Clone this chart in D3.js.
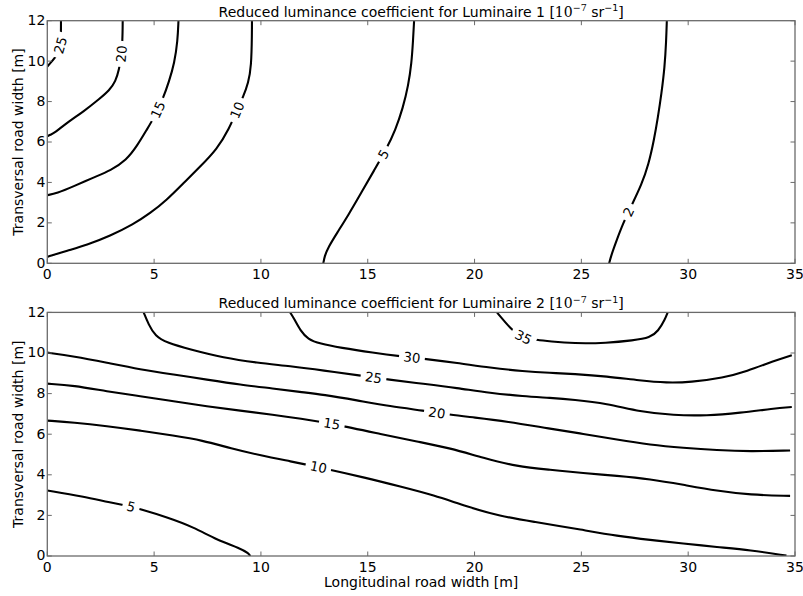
<!DOCTYPE html>
<html><head><meta charset="utf-8">
<script src="https://cdn.jsdelivr.net/npm/d3@7/dist/d3.min.js"></script>
<style>
body{margin:0;background:#fff}
svg{display:block}
text{font-family:"DejaVu Sans",sans-serif;fill:#000}
</style>
</head><body>
<svg id="chart" width="803" height="596"></svg>
<script>
// ---------------- data ----------------
const xTicks = [0, 5, 10, 15, 20, 25, 30, 35];
const yTicks = [0, 2, 4, 6, 8, 10, 12];
const xLabel = "Longitudinal road width [m]";
const yLabel = "Transversal road width [m]";
const titleMain1 = "Reduced luminance coefficient for Luminaire 1 ";
const titleMain2 = "Reduced luminance coefficient for Luminaire 2 ";

// Luminaire 1 contour lines [x, y]
const lum1Level25 = [[0.64,12],[0.64,11.4],[0.62,10.8],[0.52,10.42],[0.34,10.15],[0.14,9.9],[0,9.73]];
const lum1Level20 = [[3.53,12],[3.52,11.0],[3.46,10.2],[3.36,9.6],[3.20,9.0],[2.90,8.55],[2.47,8.16],[1.69,7.50],[0.91,6.95],[0.36,6.46],[0.13,6.35],[0,6.28]];
const lum1Level15 = [[6.14,12],[6.10,11.0],[5.95,9.9],[5.70,9.0],[5.40,8.1],[5.05,7.3],[4.65,6.6],[4.20,5.8],[3.70,5.1],[2.98,4.6],[2.15,4.24],[1.22,3.80],[0.44,3.46],[0,3.37]];
const lum1Level10 = [[9.58,12],[9.58,11.4],[9.55,9.72],[9.41,8.93],[9.17,8.23],[8.89,7.59],[8.52,6.68],[7.95,5.65],[7.15,4.78],[6.37,3.96],[5.59,3.13],[4.81,2.47],[4.03,1.93],[2.94,1.35],[1.84,0.9],[0.91,0.62],[0.13,0.36],[0,0.32]];
const lum1Level5 = [[17.17,12],[17.12,11.0],[17.05,9.9],[16.90,8.8],[16.65,7.7],[16.3,6.6],[15.85,5.6],[15.3,4.6],[14.7,3.5],[14.1,2.4],[13.55,1.48],[13.15,0.79],[12.98,0.35],[12.92,0]];
const lum1Level2 = [[29.0,12],[28.97,11.0],[28.90,9.7],[28.75,8.4],[28.58,7.2],[28.40,6.1],[28.15,4.9],[27.8,3.85],[27.42,3.02],[26.95,1.98],[26.62,1.05],[26.40,0.4],[26.30,0]];
const lum1Levels = [25, 20, 15, 10, 5, 2];
const lum1LabelX = [0.63, 3.44, 5.21, 8.88, 15.74, 27.2];
const lum1LabelY = [10.78, 10.36, 7.58, 7.58, 5.40, 2.54];

// Luminaire 2 contour lines [x, y]
const lum2Level35 = [[21.05,12],[21.12,11.9],[21.45,11.5],[21.74,11.16],[22.0,10.93],[22.29,10.78],[22.91,10.64],[23.54,10.57],[24.63,10.47],[26.19,10.49],[27.43,10.62],[28.22,10.75],[28.60,11.08],[28.91,11.65],[29.04,12]];
const lum2Level30 = [[11.37,12],[11.55,11.7],[11.85,11.1],[12.2,10.68],[12.75,10.46],[13.71,10.26],[15.27,10.01],[16.52,9.84],[17.69,9.71],[19.17,9.52],[20.73,9.27],[22.29,9.10],[23.54,9.02],[24.63,8.97],[26.19,8.85],[27.75,8.64],[29.0,8.53],[30.09,8.56],[31.65,8.78],[32.74,9.10],[33.99,9.60],[34.85,9.89]];
const lum2Level25 = [[4.51,12],[4.74,11.41],[5.05,10.83],[5.60,10.50],[6.69,10.17],[8.25,9.76],[9.81,9.52],[11.37,9.35],[12.93,9.14],[14.65,8.89],[15.97,8.69],[17.61,8.48],[19.17,8.28],[20.73,8.03],[22.29,7.87],[23.54,7.79],[24.63,7.70],[26.19,7.51],[27.75,7.10],[29.31,6.93],[30.87,6.91],[32.43,7.05],[33.99,7.26],[34.85,7.34]];
const lum2Level20 = [[0,10.02],[1.23,9.84],[2.79,9.52],[4.35,9.19],[5.91,8.94],[7.47,8.69],[9.03,8.44],[10.59,8.25],[11.84,8.08],[12.93,7.95],[14.49,7.67],[16.05,7.37],[17.61,7.16],[18.86,6.96],[19.95,6.83],[21.51,6.63],[23.54,6.27],[25.08,6.02],[26.67,5.73],[28.22,5.48],[29.76,5.33],[31.35,5.21],[32.9,5.15],[34.77,5.20]];
const lum2Level15 = [[0,8.49],[1.23,8.40],[2.79,8.11],[4.35,7.87],[5.91,7.62],[7.47,7.37],[9.03,7.16],[10.59,6.96],[11.84,6.77],[13.32,6.52],[15.74,5.98],[17.30,5.64],[18.86,5.32],[20.42,4.82],[21.98,4.41],[23.54,4.25],[25.08,4.08],[26.67,3.95],[28.22,3.79],[29.76,3.51],[31.35,3.21],[32.9,3.01],[34.77,2.96]];
const lum2Level10 = [[0,6.67],[1.23,6.58],[2.79,6.40],[4.35,6.18],[5.91,5.93],[7.25,5.70],[8.6,5.30],[10.0,4.95],[11.4,4.66],[12.69,4.38],[14.96,3.84],[16.52,3.42],[18.08,3.0],[19.64,2.43],[21.2,1.96],[22.7,1.70],[25.08,1.28],[26.67,0.99],[28.22,0.79],[29.76,0.62],[31.35,0.44],[32.9,0.29],[34.6,0.02]];
const lum2Level5 = [[0,3.23],[1.68,2.93],[2.95,2.63],[3.65,2.50],[4.35,2.31],[5.6,1.91],[6.85,1.42],[7.94,0.79],[9.03,0.38],[9.42,0.13],[9.5,0]];
const lum2Levels = [35, 30, 25, 20, 15, 10, 5];
const lum2LabelX = [22.29, 17.07, 15.27, 18.24, 13.32, 12.69, 3.93];
const lum2LabelY = [10.78, 9.79, 8.80, 7.08, 6.52, 4.38, 2.47];

// ---------------- drawing ----------------
const svg = d3.select("#chart");
svg.append("rect").attr("width", 803).attr("height", 596).attr("fill", "#fff");
const plotLeft = 47.3, plotRight = 795;

function drawPanel(id, top, bottom, titleText, lines, levels, labX, labY, showXLabel) {
  const x = d3.scaleLinear().domain([0, 35]).range([plotLeft, plotRight]);
  const y = d3.scaleLinear().domain([0, 12]).range([bottom, top]);
  const g = svg.append("g");

  g.append("clipPath").attr("id", "clip" + id)
    .append("rect").attr("x", plotLeft).attr("y", top)
    .attr("width", plotRight - plotLeft).attr("height", bottom - top);

  const lineGen = d3.line().x(d => x(d[0])).y(d => y(d[1]))
    .curve(d3.curveBasis);

  const lg = g.append("g").attr("clip-path", `url(#clip${id})`);
  lines.forEach(l => {
    lg.append("path").attr("d", lineGen(l.pts))
      .attr("fill", "none").attr("stroke", "#000")
      .attr("stroke-width", 2.1).attr("stroke-linejoin", "round").attr("stroke-linecap", "butt");
  });

  // inline contour labels
  levels.forEach((lev, i) => {
    const line = lines.find(l => l.level === lev);
    const px = x(labX[i]), py = y(labY[i]);
    let best = null;
    for (let k = 0; k < line.pts.length - 1; k++) {
      const ax = x(line.pts[k][0]), ay = y(line.pts[k][1]);
      const bx = x(line.pts[k + 1][0]), by = y(line.pts[k + 1][1]);
      const dx = bx - ax, dy = by - ay;
      const len2 = dx * dx + dy * dy;
      let t = len2 ? ((px - ax) * dx + (py - ay) * dy) / len2 : 0;
      t = Math.max(0, Math.min(1, t));
      const qx = ax + t * dx, qy = ay + t * dy;
      const dist = Math.hypot(px - qx, py - qy);
      if (!best || dist < best.dist) best = {dist, qx, qy, dx, dy};
    }
    let ang = Math.atan2(best.dy, best.dx) * 180 / Math.PI;
    if (ang > 90) ang -= 180;
    if (ang < -90) ang += 180;
    const lg2 = g.append("g").attr("transform", `translate(${best.qx},${best.qy}) rotate(${ang})`);
    const rect = lg2.append("rect").attr("fill", "#fff");
    const t = lg2.append("text").attr("text-anchor", "middle").attr("dy", "0.36em")
      .attr("font-size", 13.3).text(lev);
    const w = t.node().getComputedTextLength() + 9;
    rect.attr("x", -w / 2).attr("y", -5.5).attr("width", w).attr("height", 11);
  });

  // frame
  const frameColor = "#6a6a6a";
  g.append("rect").attr("x", plotLeft).attr("y", top)
    .attr("width", plotRight - plotLeft).attr("height", bottom - top)
    .attr("fill", "none").attr("stroke", frameColor).attr("stroke-width", 1.3);

  const tickLen = 4.5;
  xTicks.forEach(v => {
    g.append("line").attr("x1", x(v)).attr("x2", x(v)).attr("y1", bottom).attr("y2", bottom - tickLen)
      .attr("stroke", frameColor).attr("stroke-width", 1);
    g.append("line").attr("x1", x(v)).attr("x2", x(v)).attr("y1", top).attr("y2", top + tickLen)
      .attr("stroke", frameColor).attr("stroke-width", 1);
    g.append("text").attr("x", x(v)).attr("y", bottom + 15.5).attr("text-anchor", "middle")
      .attr("font-size", 14).text(v);
  });
  yTicks.forEach(v => {
    g.append("line").attr("x1", plotLeft).attr("x2", plotLeft + tickLen).attr("y1", y(v)).attr("y2", y(v))
      .attr("stroke", frameColor).attr("stroke-width", 1);
    g.append("line").attr("x1", plotRight).attr("x2", plotRight - tickLen).attr("y1", y(v)).attr("y2", y(v))
      .attr("stroke", frameColor).attr("stroke-width", 1);
    g.append("text").attr("x", plotLeft - 2).attr("y", y(v)).attr("dy", "0.32em").attr("text-anchor", "end")
      .attr("font-size", 14).text(v);
  });

  // y axis label
  g.append("text").attr("transform", `translate(23.3,${(top + bottom) / 2}) rotate(-90)`)
    .attr("text-anchor", "middle").attr("font-size", 14).text(yLabel);

  // title
  const tt = g.append("text").attr("x", (plotLeft + plotRight) / 2).attr("y", top - 4)
    .attr("text-anchor", "middle").attr("font-size", 14);
  tt.append("tspan").text(titleText);
  tt.append("tspan").attr("font-family", "DejaVu Serif").text("[10");
  tt.append("tspan").attr("font-family", "DejaVu Serif").attr("font-size", 9.5).attr("dy", -5.5).text("\u22127");
  tt.append("tspan").attr("dy", 5.5).text("\u00a0sr");
  tt.append("tspan").attr("font-size", 9.5).attr("dy", -5.5).text("\u22121");
  tt.append("tspan").attr("font-family", "DejaVu Serif").attr("dy", 5.5).text("]");

  if (showXLabel) {
    g.append("text").attr("x", (plotLeft + plotRight) / 2).attr("y", bottom + 31)
      .attr("text-anchor", "middle").attr("font-size", 14).text(xLabel);
  }
}

drawPanel("a", 20.7, 263.3, titleMain1, [
  {level: 25, pts: lum1Level25}, {level: 20, pts: lum1Level20}, {level: 15, pts: lum1Level15},
  {level: 10, pts: lum1Level10}, {level: 5, pts: lum1Level5}, {level: 2, pts: lum1Level2}
], lum1Levels, lum1LabelX, lum1LabelY, false);

drawPanel("b", 312.4, 556, titleMain2, [
  {level: 35, pts: lum2Level35}, {level: 30, pts: lum2Level30}, {level: 25, pts: lum2Level25},
  {level: 20, pts: lum2Level20}, {level: 15, pts: lum2Level15}, {level: 10, pts: lum2Level10},
  {level: 5, pts: lum2Level5}
], lum2Levels, lum2LabelX, lum2LabelY, true);
</script>
</body></html>
